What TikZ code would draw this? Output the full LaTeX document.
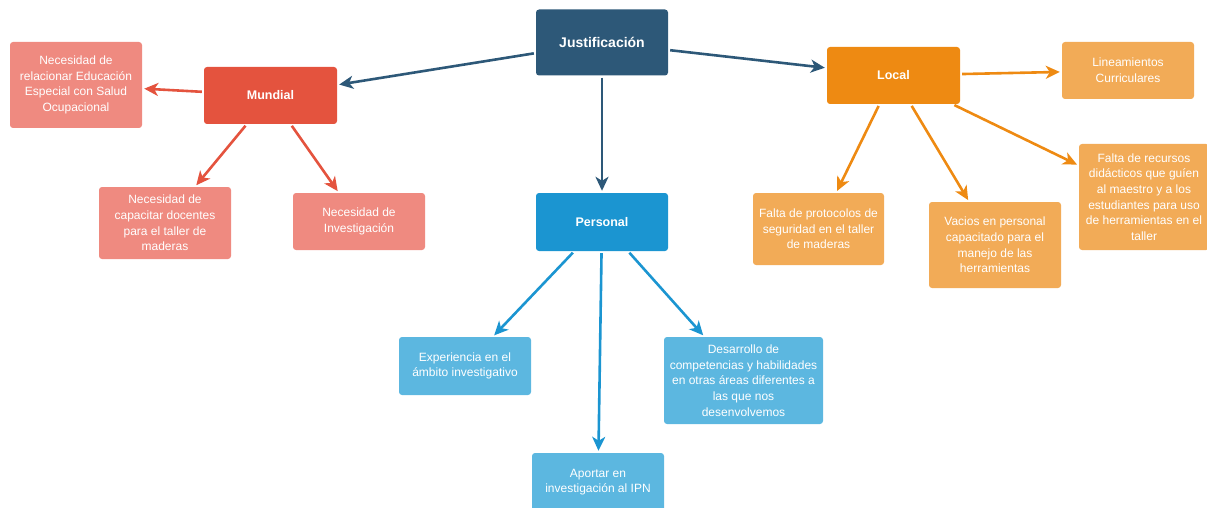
\documentclass[tikz,border=0pt]{standalone}
\usepackage{fontspec}
\setmainfont{Liberation Sans}
\usetikzlibrary{arrows.meta}

\definecolor{rootblue}{HTML}{2D5878}
\definecolor{redmain}{HTML}{E4533E}
\definecolor{redlight}{HTML}{EF8A80}
\definecolor{orgmain}{HTML}{EE8A12}
\definecolor{orglight}{HTML}{F2AB57}
\definecolor{bluemain}{HTML}{1B95D1}
\definecolor{bluelight}{HTML}{5CB7E0}

\begin{document}
\begin{tikzpicture}[x=1pt, y=-1pt,
  box/.style={rounded corners=3pt, text=white, align=center, inner sep=0pt,
    font=\fontsize{12}{15.7}\selectfont},
  headbox/.style={box, font=\bfseries\fontsize{12.5}{15}\selectfont},
  conn/.style={line width=2.6pt, shorten >=2pt, shorten <=2pt,
    -{Stealth[length=14pt, width=13pt, inset=4pt]}}
]
\useasboundingbox (0,0) rectangle (1207,508);

% main branches
\node[headbox, fill=rootblue, minimum width=132pt, minimum height=66pt,
  font=\bfseries\fontsize{14}{16}\selectfont] (just) at (602,42.5) {Justificación};
\node[headbox, fill=redmain, minimum width=133pt, minimum height=57pt] (mun) at (270.5,95.5) {Mundial};
\node[headbox, fill=orgmain, minimum width=133pt, minimum height=57pt] (loc) at (893.5,75.5) {Local};
\node[headbox, fill=bluemain, minimum width=132pt, minimum height=58pt] (per) at (602,222) {Personal};

% Mundial leaves
\node[box, fill=redlight, minimum width=132pt, minimum height=86pt] (rel) at (76,85)
  {Necesidad de\\relacionar Educación\\Especial con Salud\\Ocupacional};
\node[box, fill=redlight, minimum width=132pt, minimum height=72pt] (cap) at (165,223)
  {Necesidad de\\capacitar docentes\\para el taller de\\maderas};
\node[box, fill=redlight, minimum width=132pt, minimum height=57pt] (inv) at (359,221.5)
  {Necesidad de\\Investigación};

% Local leaves
\node[box, fill=orglight, minimum width=132pt, minimum height=57pt] (lin) at (1128,70.5)
  {Lineamientos\\Curriculares};
\node[box, fill=orglight, minimum width=131pt, minimum height=72pt] (pro) at (818.5,229)
  {Falta de protocolos de\\seguridad en el taller\\de maderas};
\node[box, fill=orglight, minimum width=132pt, minimum height=86pt] (vac) at (995,245)
  {Vacios en personal\\capacitado para el\\manejo de las\\herramientas};
\node[box, fill=orglight, minimum width=130pt, minimum height=106pt] (rec) at (1144,197)
  {Falta de recursos\\didácticos que guíen\\al maestro y a los\\estudiantes para uso\\de herramientas en el\\taller};

% Personal leaves
\node[box, fill=bluelight, minimum width=132pt, minimum height=58pt] (exp) at (465,366)
  {Experiencia en el\\ámbito investigativo};
\node[box, fill=bluelight, minimum width=159pt, minimum height=87pt] (des) at (743.5,380.5)
  {Desarrollo de\\competencias y habilidades\\en otras áreas diferentes a\\las que nos\\desenvolvemos};
\node[box, fill=bluelight, minimum width=132pt, minimum height=58pt] (apo) at (598,482)
  {Aportar en\\investigación al IPN};

% connectors
\draw[conn, rootblue] (just) -- (mun);
\draw[conn, rootblue] (just) -- (loc);
\draw[conn, rootblue] (just) -- (per);

\draw[conn, redmain] (mun) -- (rel);
\draw[conn, redmain] (mun) -- (cap);
\draw[conn, redmain] (mun) -- (inv);

\draw[conn, orgmain] (loc) -- (lin);
\draw[conn, orgmain] (loc) -- (pro);
\draw[conn, orgmain] (loc) -- (vac);
\draw[conn, orgmain] (loc) -- (rec);

\draw[conn, bluemain] (per) -- (exp);
\draw[conn, bluemain] (per) -- (apo);
\draw[conn, bluemain] (per) -- (des);
\end{tikzpicture}
\end{document}
